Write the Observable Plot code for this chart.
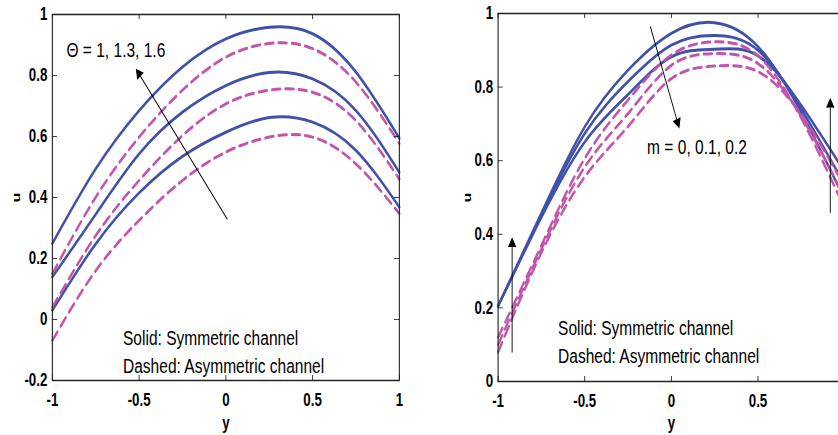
<!DOCTYPE html>
<html>
<head>
<meta charset="utf-8">
<script src="https://cdn.jsdelivr.net/npm/d3@7"></script>
<script src="https://cdn.jsdelivr.net/npm/@observablehq/plot@0.6"></script>
<style>
  html, body { margin: 0; padding: 0; overflow: hidden; background: #fff; width: 838px; height: 435px; }
  #wrap { position: relative; width: 838px; height: 435px; overflow: hidden; }
  .panel { position: absolute; top: 0; }
</style>
</head>
<body>
<div id="wrap">
  <div id="left" class="panel" style="left:0px"></div>
  <div id="right" class="panel" style="left:420px"></div>
</div>
<script>
// ---------- data ----------
const yGrid = [-1, -0.75, -0.5, -0.25, 0, 0.25, 0.5, 0.75, 1];
const xTicks = [-1, -0.5, 0, 0.5, 1];
const xTickLabelsRight = [-1, -0.5, 0, 0.5];   // the "1" label lies outside the cropped figure
const uTicksLeft = [-0.2, 0, 0.2, 0.4, 0.6, 0.8, 1];
const uTicksRight = [0, 0.2, 0.4, 0.6, 0.8, 1];

// Left panel: Theta = 1, 1.3, 1.6
const symTheta1   = [0.030, 0.248, 0.415, 0.535, 0.614, 0.662, 0.647, 0.554, 0.368];
const symTheta13  = [0.139, 0.345, 0.543, 0.680, 0.767, 0.810, 0.789, 0.685, 0.482];
const symTheta16  = [0.249, 0.494, 0.685, 0.828, 0.920, 0.958, 0.937, 0.811, 0.594];
const asymTheta1  = [-0.069, 0.160, 0.325, 0.456, 0.549, 0.598, 0.598, 0.510, 0.347];
const asymTheta13 = [0.040, 0.275, 0.456, 0.603, 0.707, 0.752, 0.745, 0.652, 0.460];
const asymTheta16 = [0.150, 0.401, 0.598, 0.752, 0.860, 0.905, 0.888, 0.778, 0.577];

// Right panel: m = 0, 0.1, 0.2
const symM0   = [0.205, 0.458, 0.692, 0.846, 0.946, 0.975, 0.910, 0.730, 0.495];
const symM01  = [0.205, 0.452, 0.674, 0.815, 0.914, 0.940, 0.900, 0.740, 0.535];
const symM02  = [0.205, 0.446, 0.651, 0.780, 0.882, 0.903, 0.885, 0.750, 0.570];
const asymM0  = [0.120, 0.370, 0.606, 0.765, 0.887, 0.923, 0.885, 0.715, 0.470];
const asymM01 = [0.100, 0.360, 0.583, 0.728, 0.859, 0.891, 0.864, 0.720, 0.500];
const asymM02 = [0.080, 0.350, 0.556, 0.693, 0.823, 0.857, 0.842, 0.725, 0.530];

// annotation texts
const leftLabel = "Θ = 1, 1.3, 1.6";
const rightLabel = "m = 0, 0.1, 0.2";
const legendSolid = "Solid: Symmetric channel";
const legendDashed = "Dashed: Asymmetric channel";

// ---------- helpers ----------
const k = 0.74;               // horizontal squeeze of the original figure
const BLUE = "#3f51a8";
const MAGENTA = "#c254ad";

function rows(series) {
  return series.flatMap(([name, vals]) => yGrid.map((y, i) => ({y, u: vals[i], s: name})));
}

function panel(opt) {
  const W = opt.screenW / k;
  const ml = opt.screenML / k;
  const mr = opt.screenMR / k;
  const pw = W - ml - mr;
  const ph = opt.H - opt.mt - opt.mb;
  const span = opt.yDomain[1] - opt.yDomain[0];
  const tl = 5;
  // filled arrow heads: triangle placed just behind each tip
  const heads = opt.arrows.map(a => {
    const dx = (a.x2 - a.x1) * pw / 2;
    const dy = (a.y2 - a.y1) * ph / span;     // upward positive
    const len = Math.hypot(dx, dy);
    const ux = dx / len, uy = dy / len;
    const back = 4;
    return {
      x: a.x2 - ux * back / (pw / 2),
      y: a.y2 - uy * back / (ph / span),
      r: Math.atan2(dx, dy) * 180 / Math.PI
    };
  });
  const svg = Plot.plot({
    width: W,
    height: opt.H,
    marginLeft: ml,
    marginRight: mr,
    marginTop: opt.mt,
    marginBottom: opt.mb,
    x: {domain: [-1, 1]},
    y: {domain: opt.yDomain},
    style: {fontFamily: "'Liberation Sans', Arial, sans-serif", background: "white", color: "black"},
    marks: [
      Plot.line(rows(opt.solid), {x: "y", y: "u", z: "s", stroke: BLUE, strokeWidth: 3, curve: "natural"}),
      Plot.line(rows(opt.dashed), {x: "y", y: "u", z: "s", stroke: MAGENTA, strokeWidth: 3, strokeDasharray: "11,7", curve: "natural"}),
      Plot.frame({stroke: "#222", strokeWidth: 1.5}),
      Plot.tickY(opt.uTicks, {y: d => d, insetRight: pw - tl / k, stroke: "#222", strokeWidth: 1}),
      Plot.tickY(opt.uTicks, {y: d => d, insetLeft: pw - tl / k, stroke: "#222", strokeWidth: 1}),
      Plot.tickX(xTicks, {x: d => d, insetTop: ph - tl, stroke: "#222", strokeWidth: 1.2}),
      Plot.tickX(xTicks, {x: d => d, insetBottom: ph - tl, stroke: "#222", strokeWidth: 1.2}),
      Plot.axisY({ticks: opt.uTicks, tickSize: 0, tickPadding: 5 / k, tickFormat: d => String(d), label: null, fontSize: 18, fontWeight: "bold"}),
      Plot.axisX({ticks: opt.xLabels, tickSize: 0, tickPadding: 13, tickFormat: d => String(d), label: null, fontSize: 18, fontWeight: "bold"}),
      Plot.text(["y"], {text: d => d, frameAnchor: "bottom", lineAnchor: "bottom", dy: opt.yLabelDy, fontSize: 18, fontWeight: "bold"}),
      Plot.text(["u"], {text: d => d, frameAnchor: "left", textAnchor: "middle", lineAnchor: "middle", dx: opt.uDx, rotate: -90, fontSize: 16, fontWeight: "bold"}),
      Plot.text(opt.texts, {x: "x", y: "y", text: "t", textAnchor: "start", fontSize: opt.textSize, fill: "black"}),
      Plot.arrow(opt.arrows, {x1: "x1", y1: "y1", x2: "x2", y2: "y2", stroke: "black", strokeWidth: 1.2, headLength: 10}),
      Plot.dot(heads, {x: "x", y: "y", rotate: "r", symbol: "triangle", r: 4.2, fill: "black", stroke: "none"})
    ]
  });
  svg.style.transform = `scaleX(${k})`;
  svg.style.transformOrigin = "0 0";
  svg.style.maxWidth = "none";
  svg.style.display = "block";
  return svg;
}

const leftSvg = panel({
  screenW: 420, screenML: 52, screenMR: 21, H: 435, mt: 14, mb: 55,
  yDomain: [-0.2, 1], uTicks: uTicksLeft, xLabels: xTicks, uDx: (15.5 - 52) / k, yLabelDy: 49,
  solid: [["Θ=1", symTheta1], ["Θ=1.3", symTheta13], ["Θ=1.6", symTheta16]],
  dashed: [["Θ=1", asymTheta1], ["Θ=1.3", asymTheta13], ["Θ=1.6", asymTheta16]],
  textSize: 21,
  texts: [
    {x: -0.919, y: 0.882, t: leftLabel},
    {x: -0.593, y: -0.061, t: legendSolid},
    {x: -0.593, y: -0.152, t: legendDashed}
  ],
  arrows: [{x1: 0.007, y1: 0.33, x2: -0.512, y2: 0.816}]
});
document.getElementById("left").appendChild(leftSvg);

const rightSvg = panel({
  screenW: 440, screenML: 77.7, screenMR: 15.7, H: 435, mt: 13, mb: 54,
  yDomain: [0, 1], uTicks: uTicksRight, xLabels: xTickLabelsRight, uDx: (46.7 - 77.7) / k, yLabelDy: 48,
  solid: [["m=0", symM0], ["m=0.1", symM01], ["m=0.2", symM02]],
  dashed: [["m=0", asymM0], ["m=0.1", asymM01], ["m=0.2", asymM02]],
  textSize: 21,
  texts: [
    {x: -0.14, y: 0.636, t: rightLabel},
    {x: -0.654, y: 0.145, t: legendSolid},
    {x: -0.654, y: 0.0675, t: legendDashed}
  ],
  arrows: [
    {x1: -0.121, y1: 0.964, x2: 0.042, y2: 0.694},
    {x1: -0.919, y1: 0.08, x2: -0.919, y2: 0.385},
    {x1: 0.917, y1: 0.46, x2: 0.917, y2: 0.764}
  ]
});
document.getElementById("right").appendChild(rightSvg);
</script>
</body>
</html>
